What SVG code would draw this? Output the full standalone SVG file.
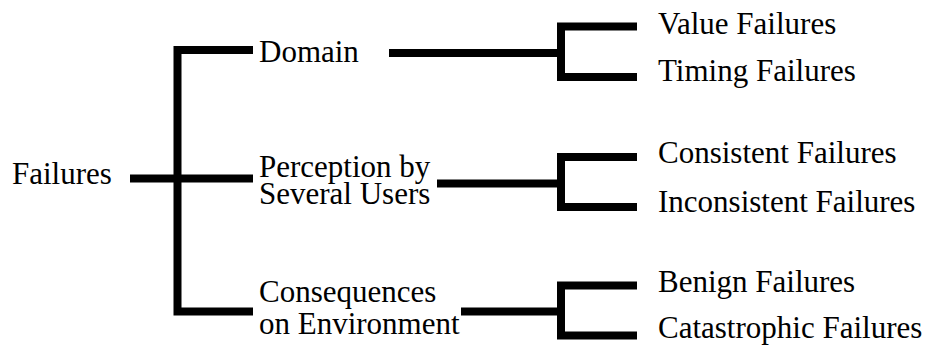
<svg xmlns="http://www.w3.org/2000/svg" width="932" height="351" viewBox="0 0 932 351">
<style>
text{font-family:"Liberation Serif","Times New Roman",serif;font-size:31px;fill:#000}
.c{fill:none;stroke:#000;stroke-width:8;stroke-linejoin:miter;stroke-linecap:butt}
</style>
<rect width="932" height="351" fill="#fff"/>
<g id="connectors">
<path class="c" d="M253,50 H177.5 V311.5 H253"/>
<path class="c" d="M130,178.5 H253"/>
<path class="c" d="M389,53 H561"/>
<path class="c" d="M637,26.5 H561 V77 H637"/>
<path class="c" d="M437,183.5 H561"/>
<path class="c" d="M637,157 H561 V207 H637"/>
<path class="c" d="M461,311.5 H561"/>
<path class="c" d="M637,285.5 H561 V335.5 H637"/>
</g>
<g id="failures"><text x="12" y="184">Failures</text></g>
<g id="domain"><text x="259" y="62">Domain</text></g>
<g id="perception"><text x="259" y="177">Perception by</text><text x="259" y="204">Several Users</text></g>
<g id="consequences"><text x="259" y="302">Consequences</text><text x="259" y="334">on Environment</text></g>
<g id="value"><text x="658" y="34">Value Failures</text></g>
<g id="timing"><text x="658" y="81">Timing Failures</text></g>
<g id="consistent"><text x="658" y="163">Consistent Failures</text></g>
<g id="inconsistent"><text x="658" y="212">Inconsistent Failures</text></g>
<g id="benign"><text x="658" y="292">Benign Failures</text></g>
<g id="catastrophic"><text x="658" y="338">Catastrophic Failures</text></g>
</svg>
